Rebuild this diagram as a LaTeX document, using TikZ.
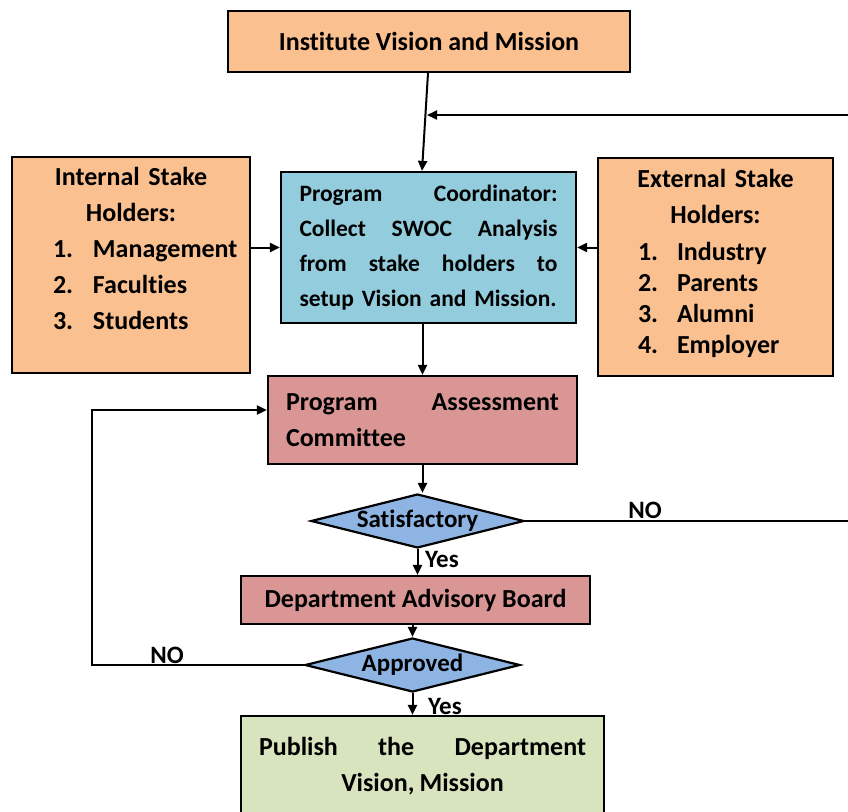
\documentclass[tikz,border=0pt]{standalone}
\usepackage{fontspec}
\setmainfont{Carlito}[Ligatures=CommonOff]
\usetikzlibrary{arrows.meta,shapes.geometric}

\definecolor{peach}{HTML}{FAC090}
\definecolor{coordblue}{HTML}{93CDDD}
\definecolor{rose}{HTML}{D99694}
\definecolor{leaf}{HTML}{D7E4BD}
\definecolor{decide}{HTML}{8EB4E3}

\begin{document}
\begin{tikzpicture}[x=1pt,y=-1pt,
  txt/.style={font=\fontsize{26}{36}\selectfont\bfseries\frenchspacing},
  box/.style={draw, line width=2.2pt, inner sep=0pt, txt},
  choice/.style={diamond, aspect=3.9, draw, line width=2.2pt, inner sep=0pt, fill=decide,
    font=\fontsize{25}{28}\selectfont\bfseries},
  listtext/.style={txt, inner sep=0pt, anchor=north, align=left},
  link/.style={line width=2pt},
  arr/.style={link, -{Triangle[length=10pt,width=9pt]}},
  tag/.style={font=\fontsize{25}{28}\selectfont\bfseries, inner sep=1pt}
]
\useasboundingbox (0,0) rectangle (848,811);

% boxes
\node[box, fill=peach, minimum width=402pt, minimum height=61pt] (inst) at (429,41.5)
  {Institute Vision and Mission};

\node[box, fill=peach, minimum width=238pt, minimum height=216pt] (int) at (131,265) {};
\node[listtext, text width=238pt] (intText) at (131,167)
  {\makebox[\linewidth]{Internal Stake}\\
   \makebox[\linewidth]{Holders:}\\
   \hspace*{41pt}\makebox[40pt][l]{1.}Management\\
   \hspace*{41pt}\makebox[40pt][l]{2.}Faculties\\
   \hspace*{41pt}\makebox[40pt][l]{3.}Students};

\node[box, fill=coordblue, minimum width=295pt, minimum height=151pt,
      text width=258pt, align=left, font=\fontsize{23.5}{35}\selectfont\bfseries] (pc) at (428.5,247.5)
  {Program\hfill Coordinator:\\ Collect\hfill SWOC\hfill Analysis\\
   from\hfill stake\hfill holders\hfill to\\ \mbox{setup Vision and Mission.}};

\node[box, fill=peach, minimum width=235pt, minimum height=218pt] (ext) at (715.5,267) {};
\node[listtext, text width=235pt] (extText) at (715.5,169)
  {\makebox[\linewidth]{External Stake}\\
   \makebox[\linewidth]{Holders:}\\[1pt]
   \hspace*{40pt}\makebox[39pt][l]{1.}Industry\\[-5pt]
   \hspace*{40pt}\makebox[39pt][l]{2.}Parents\\[-5pt]
   \hspace*{40pt}\makebox[39pt][l]{3.}Alumni\\[-5pt]
   \hspace*{40pt}\makebox[39pt][l]{4.}Employer};

\node[box, fill=rose, minimum width=309pt, minimum height=88pt,
      text width=273pt, align=left] (pac) at (422.5,420)
  {Program\hfill Assessment\\ Committee};

\node[choice, minimum width=213pt, minimum height=54pt] (sat) at (417.5,521) {Satisfactory};

\node[box, fill=rose, minimum width=349pt, minimum height=48pt] (dab) at (415.5,600)
  {Department Advisory Board};

\node[choice, minimum width=215pt, minimum height=54pt] (app) at (412.5,665) {Approved};

\node[box, fill=leaf, minimum width=363pt, minimum height=100pt,
      text width=327pt, align=center] (pub) at (422.5,766)
  {Publish\hfill the\hfill Department\\ Vision,\hspace{5pt}Mission\\[26pt]};

% loop-back points
\coordinate (fbIn) at (427,115);
\coordinate (loopL) at (92,410);

% connectors
\draw[arr] ([xshift=-1pt]inst.south) -- ([xshift=-6.5pt]pc.north);
\draw[arr] (sat.east) -- (852,521) -- (852,115) -- (fbIn);
\node[tag, anchor=south] (no1) at (645,520) {NO};

\draw[arr] (pc.west -| int.east) -- (pc.west);
\draw[arr] (pc.east -| ext.west) -- (pc.east);
\draw[arr] (pac.north |- pc.south) -- (pac.north);
\draw[arr] (pac.south) -- (pac.south |- sat.north);
\draw[arr] (sat.south) -- (sat.south |- dab.north);
\node[tag, anchor=west] (yes1) at (424,559) {Yes};
\draw[arr] (app.north |- dab.south) -- (app.north);
\draw[arr] (app.south) -- (app.south |- pub.north);
\node[tag, anchor=west] (yes2) at (427,706) {Yes};
\draw[arr] (app.west) -| (loopL) -- (loopL -| pac.west);
\node[tag, anchor=south] (no2) at (167,665) {NO};
\end{tikzpicture}
\end{document}
